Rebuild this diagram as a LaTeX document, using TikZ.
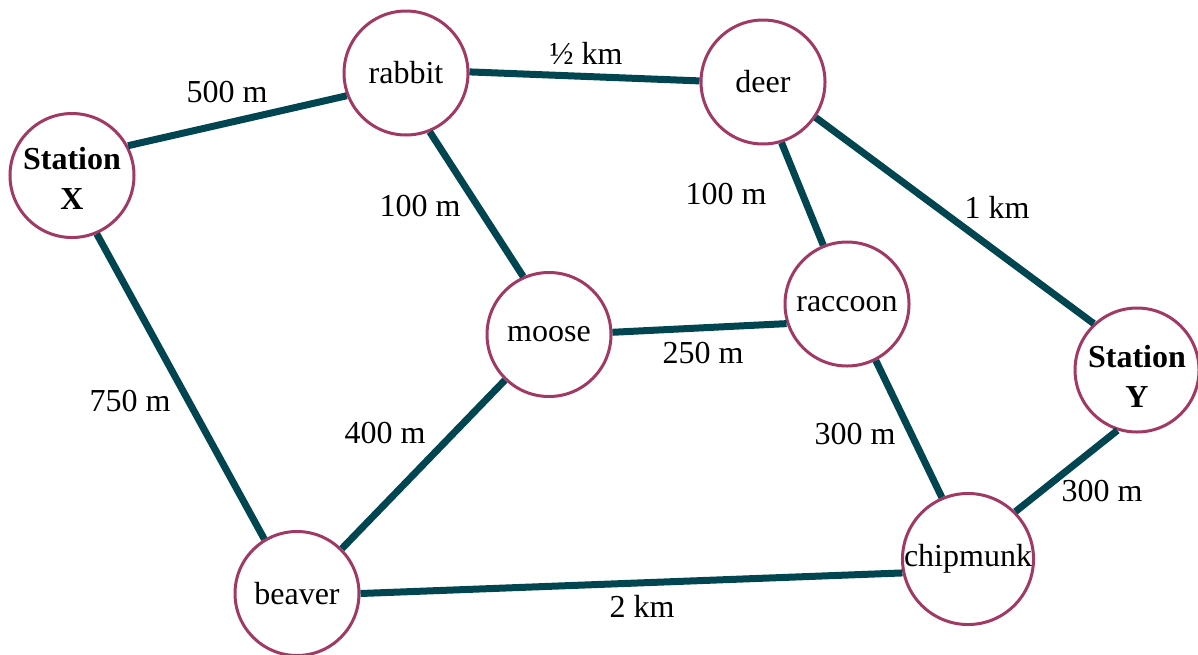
\documentclass[tikz,border=0pt]{standalone}
\usepackage{fontspec}
\setmainfont{Liberation Serif}
\newfontfamily\tnr{Liberation Serif}
\definecolor{edgec}{RGB}{0,69,80}
\definecolor{ringc}{RGB}{160,58,100}
\begin{document}
\begin{tikzpicture}[x=1pt,y=-1pt,
  animal/.style={circle,draw=ringc,line width=3pt,fill=white,minimum size=124pt,inner sep=0pt,align=center,font=\tnr\fontsize{32}{40}\selectfont},
  link/.style={draw=edgec,line width=7pt},
  lbl/.style={font=\tnr\fontsize{32}{38.4}\selectfont,inner sep=0pt}]
\useasboundingbox (0,0) rectangle (1198,654);
% nodes
\node[animal] (X) at (72,175.5) {\rule{0pt}{28.8pt}\textbf{Station}\\\textbf{X}};
\node[animal] (rabbit) at (406,73) {rabbit};
\node[animal] (deer) at (763,82) {deer};
\node[animal] (moose) at (549,334.5) {moose};
\node[animal] (raccoon) at (847,304) {raccoon};
\node[animal] (Y) at (1137,370) {\rule{0pt}{35.6pt}\textbf{Station}\\\textbf{Y}};
\node[animal] (beaver) at (297,593.5) {beaver};
\node[animal,minimum size=130pt] (chipmunk) at (968,559) {chipmunk};
% edges
\draw[link] (X.28) -- (rabbit.201);
\draw[link] (rabbit.1) -- (deer.179);
\draw[link] (X.-67.5) -- (beaver.121);
\draw[link] (rabbit.-68) -- (moose.114);
\draw[link] (deer.-73) -- (raccoon.112);
\draw[link] (deer.-34) -- (Y.133);
\draw[link] (moose.2) -- (raccoon.198);
\draw[link] (moose.226) -- (beaver.45);
\draw[link] (raccoon.-63) -- (chipmunk.113);
\draw[link] (Y.-108) -- (chipmunk.45);
\draw[link] (beaver.0) -- (chipmunk.192);
% labels
\node[lbl] (l1) at (227,92) {500 m};
\node[lbl] (l2) at (586,53) {½ km};
\node[lbl] (l3) at (420,206) {100 m};
\node[lbl] (l4) at (726,194) {100 m};
\node[lbl] (l5) at (997,207) {1 km};
\node[lbl] (l6) at (703,353) {250 m};
\node[lbl] (l7) at (130,401) {750 m};
\node[lbl] (l8) at (385,433) {400 m};
\node[lbl] (l9) at (855,434) {300 m};
\node[lbl] (l10) at (1102,491) {300 m};
\node[lbl] (l11) at (642,606) {2 km};
\end{tikzpicture}
\end{document}
